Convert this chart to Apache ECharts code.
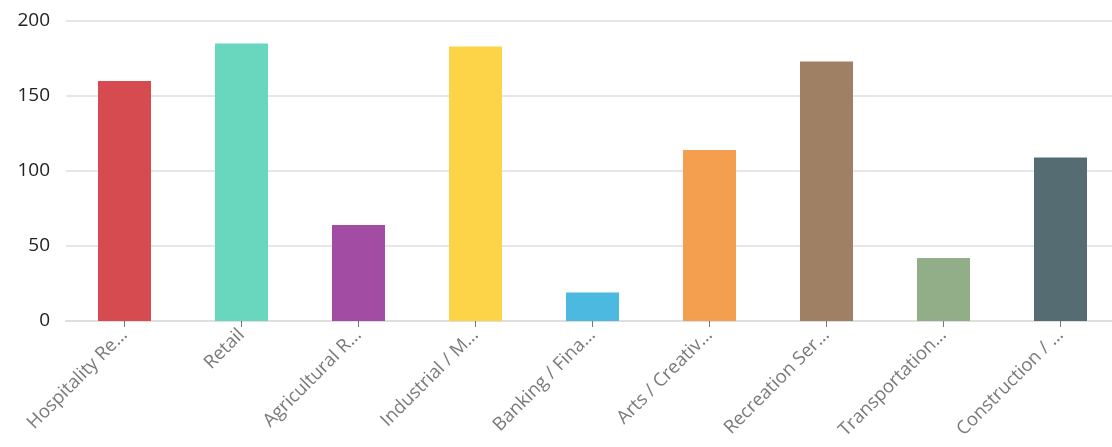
<!DOCTYPE html>
<html><head><meta charset="utf-8">
<script src="https://cdn.jsdelivr.net/npm/echarts@6/dist/echarts.min.js"></script>
<style>html,body{margin:0;padding:0;background:#fff}#c{width:1112px;height:447px}</style>
</head><body><div id="c"></div>
<script>
const categories = ["Hospitality Re...", "Retail", "Agricultural R...", "Industrial / M...", "Banking / Fina...", "Arts / Creativ...", "Recreation Ser...", "Transportation...", "Construction / ..."];
const values = [160, 185, 64, 183, 19, 114, 173, 42, 109];
const colors = ["#d64b50", "#68d7bd", "#a34ca4", "#fdd348", "#4bb9e0", "#f49f4f", "#a08064", "#92ae89", "#556c73"];
const yTicks = [0, 50, 100, 150, 200];

const chart = echarts.init(document.getElementById('c'), null, {renderer: 'canvas'});
chart.setOption({
  animation: false,
  grid: {left: 66, top: 21, width: 1053, height: 300, outerBoundsMode: 'none', containLabel: false},
  xAxis: {
    type: 'category',
    data: categories,
    axisTick: {show: true, alignWithLabel: true, length: 6, lineStyle: {color: '#777', width: 1}},
    axisLine: {lineStyle: {color: '#dedede', width: 2}},
    axisLabel: {rotate: 45, color: '#7a7a7a', fontSize: 18.5, fontFamily: 'Open Sans', margin: 11, interval: 0}
  },
  yAxis: {
    type: 'value',
    min: yTicks[0], max: yTicks[yTicks.length - 1], interval: 50,
    axisLine: {show: false}, axisTick: {show: false},
    splitLine: {lineStyle: {color: '#e6e6e6', width: 2}},
    axisLabel: {color: '#222', fontSize: 19, fontFamily: 'Open Sans', margin: 16}
  },
  series: [{
    type: 'bar',
    barWidth: 53,
    data: values.map((v, i) => ({value: v, itemStyle: {color: colors[i]}}))
  }]
});
</script></body></html>
